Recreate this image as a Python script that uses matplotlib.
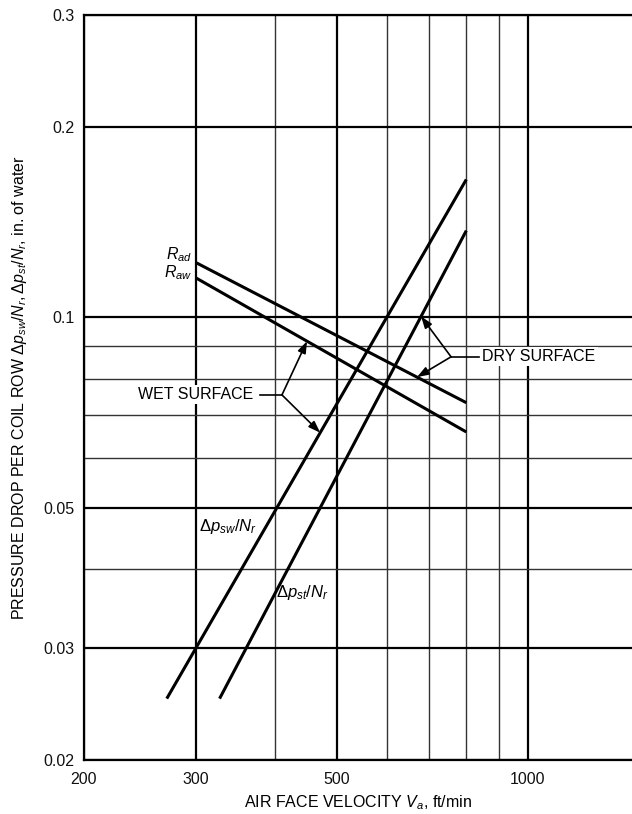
import numpy as np
import matplotlib
matplotlib.use('Agg')
import matplotlib.pyplot as plt

plt.rcParams['font.family'] = ['Liberation Sans', 'DejaVu Sans']
plt.rcParams['mathtext.fontset'] = 'custom'
plt.rcParams['mathtext.rm'] = 'Liberation Sans'
plt.rcParams['mathtext.it'] = 'Liberation Sans:italic'

# datos (ft/min, in. of water)
v_sw = [270, 800]
dp_sw = [0.025, 0.165]
v_st = [327, 800]
dp_st = [0.025, 0.137]
v_rad = [300, 800]
r_ad = [0.122, 0.0733]
v_raw = [300, 800]
r_aw = [0.1154, 0.0659]

x_major = [200, 300, 500, 1000]
x_minor = [400, 600, 700, 800, 900]
y_major = [0.02, 0.03, 0.05, 0.1, 0.2, 0.3]
y_minor = [0.04, 0.06, 0.07, 0.08, 0.09]

FS = 11.5


def en_linea(xs, ys, x):
    # valor sobre la recta log-log
    m = np.log10(ys[1] / ys[0]) / np.log10(xs[1] / xs[0])
    return ys[0] * (x / xs[0]) ** m


fig = plt.figure(figsize=(6.32, 8.14), dpi=100)
ax = fig.add_axes([84 / 632, 54 / 814, 548 / 632, 745 / 814])
ax.set_xscale('log')
ax.set_yscale('log')
ax.set_xlim(200, 1459)
ax.set_ylim(0.02, 0.3)

ax.set_xticks(x_major)
ax.set_xticklabels([str(v) for v in x_major])
ax.set_xticks(x_minor, minor=True)
ax.set_yticks(y_major)
ax.set_yticklabels(['0.02', '0.03', '0.05', '0.1', '0.2', '0.3'])
ax.set_yticks(y_minor, minor=True)
ax.xaxis.set_minor_formatter(plt.NullFormatter())
ax.yaxis.set_minor_formatter(plt.NullFormatter())
ax.tick_params(which='both', length=0, labelsize=FS, colors='#111')
ax.tick_params(axis='x', pad=9)
ax.tick_params(axis='y', pad=7)

ax.grid(which='major', color='black', linewidth=1.6)
ax.grid(which='minor', color='#333', linewidth=1.0)
ax.set_axisbelow(True)
for s in ['left', 'top', 'bottom']:
    ax.spines[s].set_linewidth(1.6)
ax.spines['right'].set_visible(False)

# rectas
for xs, ys in [(v_sw, dp_sw), (v_st, dp_st), (v_rad, r_ad), (v_raw, r_aw)]:
    ax.plot(xs, ys, color='black', linewidth=2.2, solid_capstyle='butt', zorder=3)

# etiquetas de las rectas
ax.text(296, 0.1255, r'$R_{ad}$', ha='right', va='center', fontsize=FS)
ax.text(296, 0.1175, r'$R_{aw}$', ha='right', va='center', fontsize=FS)
ax.text(303, 0.0467, r'$\Delta p_{sw}/N_r$', ha='left', va='center', fontsize=FS + 0.5)
ax.text(401, 0.0367, r'$\Delta p_{st}/N_r$', ha='left', va='center', fontsize=FS + 0.5)

flecha = dict(arrowstyle='-|>,head_length=0.7,head_width=0.25', color='black',
              linewidth=1.2, shrinkA=0, shrinkB=0)

# DRY SURFACE
ax.text(848, 0.0866, 'DRY SURFACE', ha='left', va='center', fontsize=FS,
        bbox=dict(facecolor='white', edgecolor='none', pad=1.5), zorder=4)
ax.plot([757, 838], [0.0866, 0.0866], color='black', linewidth=1.2, zorder=4)
ax.annotate('', xy=(679, en_linea(v_st, dp_st, 679)), xytext=(757, 0.0866),
            arrowprops=flecha, zorder=4)
ax.annotate('', xy=(669, en_linea(v_rad, r_ad, 669)), xytext=(757, 0.0866),
            arrowprops=flecha, zorder=4)

# WET SURFACE
ax.text(369, 0.0754, 'WET SURFACE', ha='right', va='center', fontsize=FS,
        bbox=dict(facecolor='white', edgecolor='none', pad=1.5), zorder=4)
ax.plot([379, 410], [0.0754, 0.0754], color='black', linewidth=1.2, zorder=4)
ax.annotate('', xy=(449, en_linea(v_raw, r_aw, 449)), xytext=(410, 0.0754),
            arrowprops=flecha, zorder=4)
ax.annotate('', xy=(471, en_linea(v_sw, dp_sw, 471)), xytext=(410, 0.0754),
            arrowprops=flecha, zorder=4)

ax.set_xlabel(r'AIR FACE VELOCITY $V_a$, ft/min', fontsize=FS, labelpad=4)
ax.set_ylabel(r'PRESSURE DROP PER COIL ROW $\Delta p_{sw}/N_r, \Delta p_{st}/N_r$, in. of water',
              fontsize=FS, labelpad=10)

fig.savefig('out.png', dpi=100)
